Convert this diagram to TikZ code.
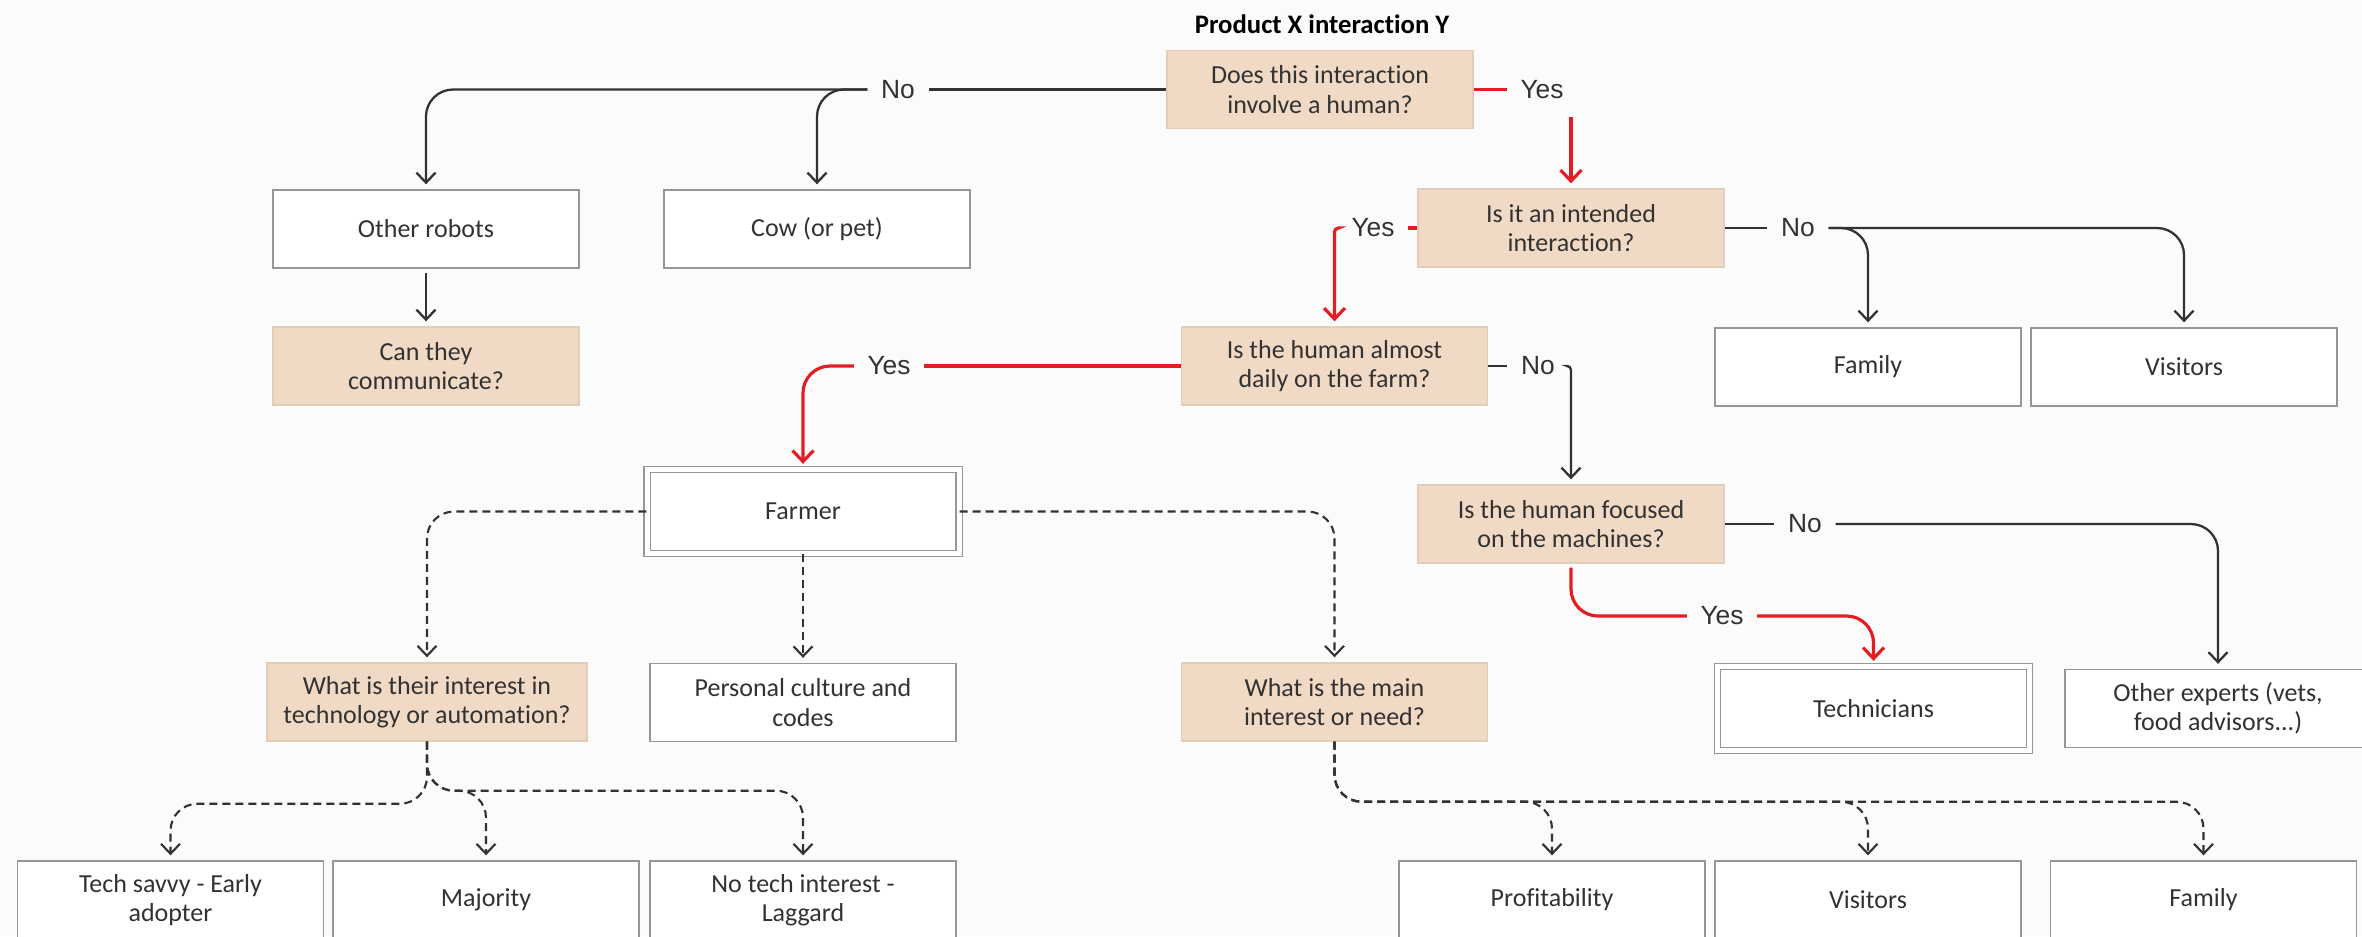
\documentclass[tikz,border=0pt]{standalone}
\usepackage{fontspec}
\setmainfont{Carlito}[RawFeature={-liga;-clig;-calt;-dlig}]
\newfontfamily\lblfont{Liberation Sans}
\usetikzlibrary{positioning}
\usetikzlibrary{arrows.meta}
\definecolor{bgcol}{RGB}{251,251,251}
\definecolor{qfill}{RGB}{241,218,197}
\definecolor{qline}{RGB}{226,204,186}
\definecolor{boxline}{RGB}{150,150,150}
\definecolor{ink}{RGB}{50,50,50}
\definecolor{yesred}{RGB}{226,29,35}
\tikzset{
    qnode/.style = {rectangle, draw=qline, fill=qfill, line width=0.4pt, minimum width=30.6mm, minimum height=7.8mm, inner sep=0pt, align=center, text=ink, font=\fontsize{7.4}{8.3}\selectfont},
    anode/.style = {rectangle, draw=boxline, fill=white, line width=0.4pt, minimum width=30.6mm, minimum height=7.8mm, inner sep=0pt, align=center, text=ink, font=\fontsize{7.4}{8.3}\selectfont},
    dnode/.style = {anode, double=white, double distance=0.5mm, minimum width=31.2mm, minimum height=8.4mm},
    lbl/.style = {inner xsep=1.3mm, inner ysep=0.5mm, text=ink, font=\lblfont\fontsize{7.5}{9}\selectfont},
    edgekl/.style = {line width=0.65pt, draw=ink}, % plain segment
    edgek/.style = {edgekl, -{Straight Barb[length=1mm,width=1.9mm]}, shorten >=0.5mm, rounded corners=2.7mm},
    edgerl/.style = {line width=0.9pt, draw=yesred},
    edger/.style = {edgerl, -{Straight Barb[length=1.1mm,width=2.1mm]}, shorten >=0.5mm, rounded corners=2.7mm}, % yes path
    edgekd/.style = {edgek, line width=0.6pt, dash pattern=on 0.8mm off 0.5mm} % farmer profile
}

\begin{document}
\begin{tikzpicture}[x=0.1mm, y=-0.1mm]
  \fill[bgcol] (0,0) rectangle (2362,936);
  \useasboundingbox (0,0) rectangle (2362,936);

  \node[text=black, font=\bfseries\fontsize{7.6}{9}\selectfont] (title) at (1322,24) {Product X interaction Y};

  % questions
  \node[qnode] (q1) at (1320,89.5) {Does this interaction\\involve a human?};
  \node[qnode] (q2) at (1571,228) {Is it an intended\\interaction?};
  \node[qnode] (q3) at (1334.5,366) {Is the human almost\\daily on the farm?};
  \node[qnode] (q4) at (1571,524) {Is the human focused\\on the machines?};
  \node[qnode] (commun) at (426,366) {Can they\\communicate?};
  \node[qnode, minimum width=32mm] (interest) at (427,702) {What is their interest in\\technology or automation?};
  \node[qnode] (mainint) at (1334.5,702) {What is the main\\interest or need?};

  % answers
  \node[anode] (robots) at (426,229) {Other robots};
  \node[anode] (cow) at (817,229) {Cow (or pet)};
  \node[anode] (family1) at (1868,367) {Family};
  \node[anode] (visitors1) at (2184,367) {Visitors};
  \node[dnode] (farmer) at (803,511.5) {Farmer};
  \node[dnode] (tech) at (1873.5,708.5) {Technicians};
  \node[anode] (experts) at (2218,708.5) {Other experts (vets,\\food advisors...)};
  \node[anode] (culture) at (803,702.5) {Personal culture and\\codes};
  \node[anode] (techsavvy) at (170.5,900) {Tech savvy - Early\\adopter};
  \node[anode] (majority) at (486,900) {Majority};
  \node[anode] (laggard) at (803,900) {No tech interest -\\Laggard};
  \node[anode] (profit) at (1552,900) {Profitability};
  \node[anode] (visitors2) at (1868,900) {Visitors};
  \node[anode] (family2) at (2203.5,900) {Family};

  % yes / no labels
  \node[lbl] (no1) at (898,89.5) {No};
  \node[lbl] (yes1) at (1542,89.5) {Yes};
  \node[lbl] (yes2) at (1373,228) {Yes};
  \node[lbl] (no2) at (1798,228) {No};
  \node[lbl] (yes3) at (889,366) {Yes};
  \node[lbl] (no3) at (1538,366) {No};
  \node[lbl] (no4) at (1805,524) {No};
  \node[lbl] (yes4) at (1722,616) {Yes};
  \coordinate (yesdrop) at (1571,117);

  \draw[edgekl] (q1.west) -- (no1.east);
  \draw[edgek] (no1.west) -| (robots.north);
  \draw[edgek] (no1.west) -| (cow.north);
  \draw[edgek, shorten <=0.4mm] (robots.south) -- (commun.north);

  \draw[edgerl] (q1.east) -- (yes1.west);
  \draw[edger] (yesdrop) -- (q2.north);
  \draw[edgerl] (q2.west) -- (yes2.east);
  \draw[edger, rounded corners=0.4mm] (yes2.west) -| (q3.north);
  \draw[edgekl] (q2.east) -- (no2.west);
  \draw[edgek] (no2.east) -| (family1.north);
  \draw[edgek] (no2.east) -| (visitors1.north);

  \draw[edgerl] (q3.west) -- (yes3.east);
  \draw[edger] (yes3.west) -| (farmer.north);
  \draw[edgekl] (q3.east) -- (no3.west);
  \draw[edgek, rounded corners=0.4mm] (no3.east) -| (q4.north);

  \draw[edgekl] (q4.east) -- (no4.west);
  \draw[edgek] (no4.east) -| (experts.north);
  \draw[edgerl, rounded corners=2.7mm, shorten <=0.4mm] (q4.south) |- (yes4.west);
  \draw[edger] (yes4.east) -| (tech.north);

  \draw[edgekd] (farmer.west) -| (interest.north);
  \draw[edgekd] (farmer.south) -- (culture.north);
  \draw[edgekd] (farmer.east) -| (mainint.north);

  \draw[edgekd] (interest.south) -- ++(0,62) -| (techsavvy.north);
  \draw[edgekd] (interest.south) -- ++(0,49) -| (majority.north);
  \draw[edgekd] (interest.south) -- ++(0,49) -| (laggard.north);
  \draw[edgekd] (mainint.south) -- ++(0,60) -| (profit.north);
  \draw[edgekd] (mainint.south) -- ++(0,60) -| (visitors2.north);
  \draw[edgekd] (mainint.south) -- ++(0,60) -| (family2.north);
\end{tikzpicture}
\end{document}
